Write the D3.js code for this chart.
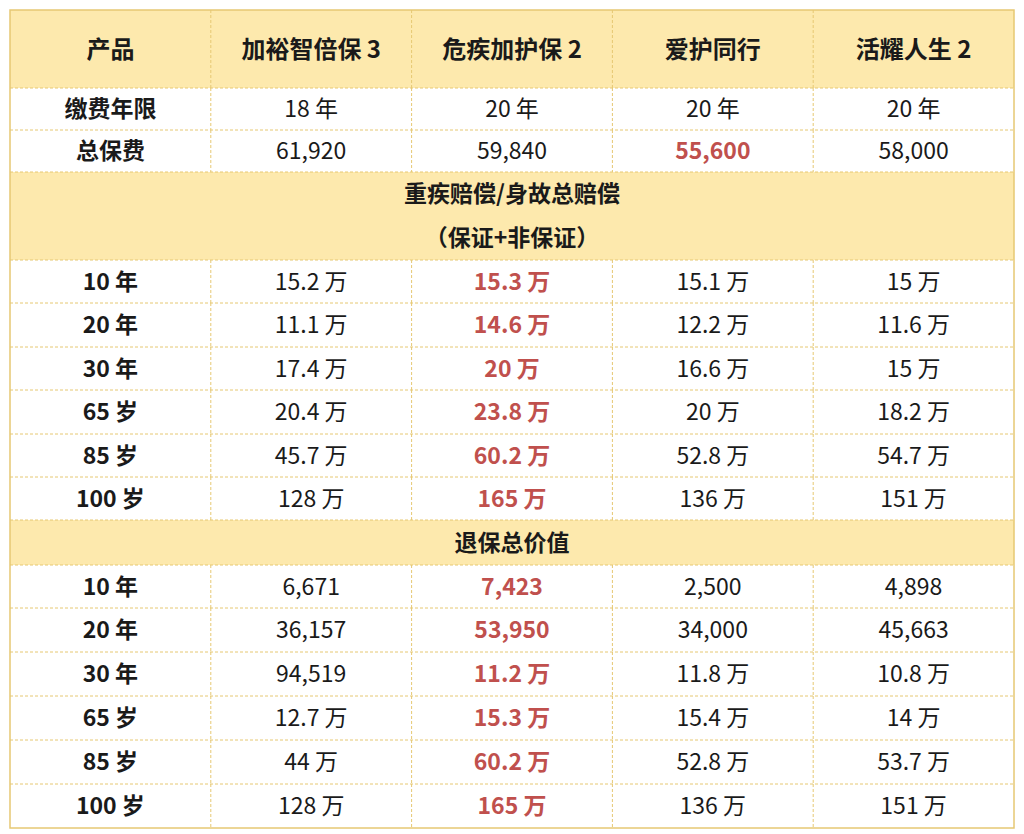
<!DOCTYPE html><html><head><meta charset="utf-8"><script src="https://cdn.jsdelivr.net/npm/d3@7"></script>
<style>body{margin:0;background:#fff}svg{display:block}text{font-family:"Noto Sans CJK SC","Noto Sans",sans-serif}</style></head><body><script>
const products=["加裕智倍保 3","危疾加护保 2","爱护同行","活耀人生 2"];
const payYears=["18 年","20 年","20 年","20 年"];
const totalPremium=["61,920","59,840","55,600","58,000"];
const rowLabels=["10 年","20 年","30 年","65 岁","85 岁","100 岁"];
const claimValues=[["15.2 万","15.3 万","15.1 万","15 万"],["11.1 万","14.6 万","12.2 万","11.6 万"],["17.4 万","20 万","16.6 万","15 万"],["20.4 万","23.8 万","20 万","18.2 万"],["45.7 万","60.2 万","52.8 万","54.7 万"],["128 万","165 万","136 万","151 万"]];
const surrenderValues=[["6,671","7,423","2,500","4,898"],["36,157","53,950","34,000","45,663"],["94,519","11.2 万","11.8 万","10.8 万"],["12.7 万","15.3 万","15.4 万","14 万"],["44 万","60.2 万","52.8 万","53.7 万"],["128 万","165 万","136 万","151 万"]];
const sec1=["重疾赔偿/身故总赔偿","（保证+非保证）"], sec2="退保总价值";

const W=1024,H=834,L=10,R=1014,T=10,B=828;
const svg=d3.select("body").append("svg").attr("width",W).attr("height",H);
const x=d3.scaleLinear().domain([0,5]).range([L,R]);
const Y=[10,88,130,172,260,303,347,390,434,477,520,565,608,652,696,740,784,828];
const bg="#fde9ad",red="#c0504d",line="#e6c873";
const rows=[];
rows.push({i:0,type:"h",cells:["产品",...products]});
rows.push({i:1,cells:["缴费年限",...payYears]});
rows.push({i:2,cells:["总保费",...totalPremium],red:3});
rows.push({i:3,type:"s",text:sec1});
rowLabels.forEach((l,k)=>rows.push({i:4+k,cells:[l,...claimValues[k]],red:2}));
rows.push({i:10,type:"s",text:[sec2]});
rowLabels.forEach((l,k)=>rows.push({i:11+k,cells:[l,...surrenderValues[k]],red:2}));
rows.forEach(r=>{
 const y0=Y[r.i],y1=Y[r.i+1],g=svg.append("g");
 if(r.type){g.append("rect").attr("x",L).attr("y",y0).attr("width",R-L).attr("height",y1-y0).attr("fill",bg);}
 if(r.type==="s"){
   const n=r.text.length,h=(y1-y0)/n;
   r.text.forEach((t,j)=>g.append("text").attr("x",(L+R)/2).attr("y",y0+h*(j+0.5)).attr("dy","0.36em").attr("text-anchor","middle").attr("font-size",23).attr("font-weight","bold").attr("fill","#1a1a1a").text(t));
 } else {
   r.cells.forEach((c,j)=>{
    const bold=r.type==="h"||j===0||j===r.red;
    g.append("text").attr("x",(x(j)+x(j+1))/2).attr("y",(y0+y1)/2).attr("dy","0.36em").attr("text-anchor","middle").attr("font-size",r.type==="h"?24:23).attr("font-weight",bold?"bold":"normal").attr("fill",j===r.red?red:"#1a1a1a").text(c);
    if(j>0)svg.append("line").attr("x1",x(j)).attr("x2",x(j)).attr("y1",y0).attr("y2",y1).attr("stroke",line).attr("stroke-dasharray","3,2");
   });
 }
 if(r.i>0)svg.append("line").attr("x1",L).attr("x2",R).attr("y1",y0).attr("y2",y0).attr("stroke",line).attr("stroke-dasharray","3,2");
});
svg.append("rect").attr("x",L).attr("y",T).attr("width",R-L).attr("height",B-T).attr("fill","none").attr("stroke",line).attr("stroke-width",1.5);
</script></body></html>
